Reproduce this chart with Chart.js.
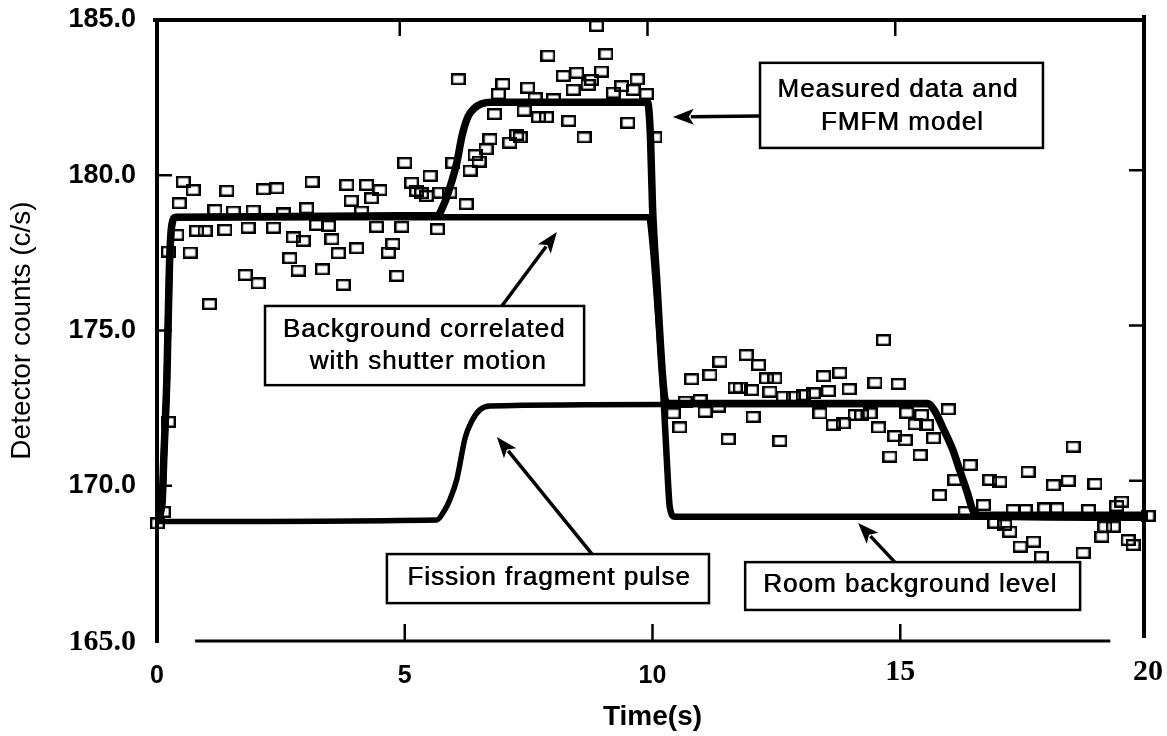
<!DOCTYPE html>
<html><head><meta charset="utf-8">
<script src="https://cdn.jsdelivr.net/npm/chart.js@4.4.1/dist/chart.umd.min.js"></script>
<style>html,body{margin:0;padding:0;background:#fff;}canvas{display:block;}</style>
</head><body>
<canvas id="c" width="1167" height="736"></canvas>
<script>
// ---- axis ticks ----
const xTicks = [0, 5, 10, 15, 20];
const yTicks = [165, 170, 175, 180, 185];
const xTickLabels = ['0', '5', '10', '15', '20'];
const yTickLabels = ['165.0', '170.0', '175.0', '180.0', '185.0'];
const xSerifTicks = [15, 20];   // labels printed in a serif face in the original
const ySerifTicks = [165];

// ---- measured data (time s, counts c/s) ----
const measT = [0.01,0.13,0.23,0.23,0.40,0.45,0.53,0.67,0.73,0.80,0.97,1.06,1.17,1.37,1.41,1.54,1.78,1.84,1.94,2.04,
  2.15,2.35,2.42,2.55,2.68,2.75,2.85,2.95,3.02,3.13,3.22,3.34,3.46,3.53,3.66,3.76,3.83,3.92,4.03,4.13,
  4.23,4.33,4.43,4.50,4.67,4.76,4.84,4.94,5.00,5.14,5.24,5.34,5.44,5.51,5.66,5.71,5.91,5.97,6.08,6.24,
  6.32,6.42,6.50,6.64,6.72,6.81,6.89,6.98,7.12,7.26,7.33,7.41,7.48,7.63,7.70,7.86,7.89,8.00,8.20,8.31,
  8.40,8.47,8.62,8.70,8.77,8.87,8.97,9.06,9.21,9.38,9.50,9.61,9.69,9.88,10.05,
  10.42,10.55,10.66,10.79,10.96,11.06,11.16,11.33,11.36,11.53,11.67,11.77,11.89,12.00,12.03,12.14,12.30,12.37,12.47,12.57,
  12.64,12.84,13.04,13.25,13.38,13.45,13.55,13.65,13.78,13.85,13.97,14.09,14.22,14.39,14.49,14.56,14.66,14.79,14.89,14.96,
  15.10,15.13,15.30,15.40,15.43,15.53,15.67,15.79,15.97,16.10,16.31,16.41,16.68,16.81,16.91,17.01,17.11,17.21,17.28,17.42,
  17.52,17.58,17.69,17.85,17.92,18.09,18.16,18.39,18.49,18.69,18.80,18.93,19.07,19.13,19.30,19.37,19.47,19.60,19.70,20.00];
const measV = [168.79,169.16,172.06,177.54,178.08,179.10,179.79,177.51,179.52,178.21,178.21,175.85,178.88,178.24,179.50,178.83,176.79,178.31,178.86,176.52,
  179.55,178.31,179.58,178.77,177.33,178.00,176.93,177.89,178.94,179.79,178.40,176.97,178.37,177.94,177.49,176.47,179.69,179.18,177.65,178.83,
  179.69,179.26,178.34,179.52,177.51,177.79,176.76,178.34,180.40,179.76,179.50,179.42,179.33,179.98,178.26,179.44,179.44,180.40,183.09,179.07,
  180.15,180.65,180.44,180.84,181.16,181.97,182.62,182.94,181.05,181.30,181.22,182.08,182.82,182.48,181.87,181.87,183.85,182.45,183.20,181.75,
  182.75,183.30,181.22,182.91,183.07,184.81,183.34,183.90,182.66,182.87,181.69,182.75,183.09,182.62,181.22,
  172.33,171.88,172.71,173.43,172.76,172.38,173.57,172.55,174.00,171.50,173.16,173.16,174.21,173.08,172.22,173.89,173.46,173.03,173.46,171.44,
  172.87,172.87,172.92,172.98,172.33,173.53,173.05,171.96,173.64,172.01,173.11,172.28,172.28,172.33,173.32,171.88,174.69,170.94,171.60,173.28,
  171.47,172.35,171.98,170.99,172.28,171.96,171.53,169.70,172.46,170.19,169.16,170.67,169.38,170.19,168.81,170.13,168.74,168.52,169.22,168.04,
  169.22,170.45,168.20,167.71,169.27,170.02,169.27,170.16,171.26,167.84,169.22,170.06,168.36,168.68,168.68,169.35,169.49,168.25,168.09,169.03];

// ---- FMFM model ----
const modelT = [0,0.10,0.14,0.20,0.25,0.30,0.38,5.65,5.80,5.91,6.05,6.16,6.28,6.40,6.55,6.75,9.90,9.96,10.00,10.09,10.20,10.26,10.35,
  15.55,15.70,15.85,16.05,16.20,16.35,16.47,16.60,20];
const modelV = [168.9,169.4,171.0,173.5,177.0,178.4,178.65,178.7,179.1,179.6,180.4,181.3,181.9,182.15,182.3,182.35,182.35,181.2,179.0,176.5,173.6,172.75,172.65,
  172.65,172.4,171.9,171.2,170.5,169.8,169.2,169.05,169.05];

// ---- background correlated with shutter motion / room background ----
const bgT = [0,0.10,0.14,0.20,0.25,0.30,0.38,9.93,10.00,10.09,10.20,10.29,10.35,10.45,20];
const bgV = [168.9,169.4,171.0,173.5,177.0,178.4,178.65,178.65,177.8,176.0,173.5,170.8,169.3,169.0,169.0];

// ---- fission fragment pulse ----
const pulseT = [0,5.65,5.80,5.91,6.05,6.22,6.36,6.52,6.72,10.26,15.55,15.70,15.85,16.05,16.20,16.35,16.47,16.60,20];
const pulseV = [168.85,168.9,169.2,169.55,170.2,171.55,172.1,172.45,172.57,172.62,172.62,172.4,171.9,171.2,170.5,169.8,169.2,169.0,168.95];

// ---- annotations (data units) ----
const notes = [
  {box:[12.17,183.62,17.88,180.88], lines:[['Measured data and',14.95,182.75],['FMFM model',15.04,181.68]], arrow:[12.17,181.91,10.41,181.88]},
  {box:[2.18,175.79,8.62,173.24], lines:[['Background correlated',5.39,175.02],['with shutter motion',5.47,173.99]], arrow:[6.96,175.79,8.07,178.17]},
  {box:[4.64,167.80,11.14,166.22], lines:[['Fission fragment pulse',7.91,167.03]], arrow:[8.78,167.80,6.86,171.57]},
  {box:[11.87,167.54,18.63,166.00], lines:[['Room background level',15.20,166.80]], arrow:[14.89,167.54,14.15,168.80]}
];
const bottomAxisSpan = [0.77, 19.24];

const pts = (ts, vs) => ts.map((t, i) => ({x: t, y: vs[i]}));

const SANS = '"Liberation Sans", Arial, Helvetica, sans-serif';
const SERIF = '"Liberation Serif", "Times New Roman", Times, serif';

// open square marker
const marker = document.createElement('canvas');
marker.width = 15; marker.height = 12;
(function(){ const c = marker.getContext('2d'); c.strokeStyle = '#000'; c.lineWidth = 2.4; c.strokeRect(1.2, 1.2, 12.6, 9.6); })();

const framePlugin = {
  id: 'frame',
  beforeDatasetsDraw(chart) {
    const {ctx, scales: {x, y}} = chart;
    const L = x.getPixelForValue(xTicks[0]), R = x.getPixelForValue(xTicks[xTicks.length-1]);
    const T = y.getPixelForValue(yTicks[yTicks.length-1]), B = y.getPixelForValue(yTicks[0]);
    const seg = (x1,y1,x2,y2,w) => { ctx.lineWidth = w; ctx.beginPath(); ctx.moveTo(x1,y1); ctx.lineTo(x2,y2); ctx.stroke(); };
    ctx.save();
    ctx.strokeStyle = '#000'; ctx.lineCap = 'butt';
    seg(L, T-2, L, B+2, 4);
    seg(L-4, T, R-2, T, 4);
    seg(R-4, T-5, R-4, B-3, 4);
    seg(x.getPixelForValue(bottomAxisSpan[0]), B, x.getPixelForValue(bottomAxisSpan[1]), B, 3);
    yTicks.slice(1, -1).forEach(v => {
      const py = y.getPixelForValue(v);
      seg(L, py, L+15, py, 2.5);
      seg(R-4, py-5, R-19, py-5, 2.5);
    });
    xTicks.slice(1, -1).forEach(v => {
      const px = x.getPixelForValue(v);
      seg(px-5, T, px-5, T+16, 2.5);
      seg(px, B, px, B-17, 2.5);
    });
    // tick labels
    ctx.fillStyle = '#000';
    ctx.textAlign = 'right'; ctx.textBaseline = 'middle';
    yTicks.forEach((v, i) => {
      ctx.font = ySerifTicks.includes(v) ? 'bold 30px ' + SERIF : 'bold 27px ' + SANS;
      ctx.fillText(yTickLabels[i], L - 21, y.getPixelForValue(v) + (ySerifTicks.includes(v) ? 1 : 0));
    });
    ctx.textAlign = 'center';
    xTicks.forEach((v, i) => {
      const serif = xSerifTicks.includes(v);
      ctx.font = serif ? 'bold 30px ' + SERIF : 'bold 25px ' + SANS;
      ctx.fillText(xTickLabels[i], x.getPixelForValue(v), B + (serif ? 31 : 35));
    });
    ctx.restore();
  }
};

const notesPlugin = {
  id: 'notes',
  afterDraw(chart) {
    const {ctx, scales: {x, y}} = chart;
    ctx.save();
    ctx.strokeStyle = '#000'; ctx.fillStyle = '#000';
    notes.forEach(n => {
      const [a0,b0,a1,b1] = n.box;
      const x0 = x.getPixelForValue(a0), y0 = y.getPixelForValue(b0);
      const x1 = x.getPixelForValue(a1), y1 = y.getPixelForValue(b1);
      ctx.fillStyle = '#fff'; ctx.fillRect(x0, y0, x1-x0, y1-y0);
      ctx.lineWidth = 2.5; ctx.strokeRect(x0, y0, x1-x0, y1-y0);
      ctx.fillStyle = '#000';
      ctx.font = '26px ' + SANS;
      try { ctx.letterSpacing = '1px'; } catch(e) {}
      ctx.textAlign = 'center'; ctx.textBaseline = 'middle';
      n.lines.forEach(([txt, tx, ty]) => {
        const px = x.getPixelForValue(tx), py = y.getPixelForValue(ty);
        ctx.fillText(txt, px, py);
        ctx.fillText(txt, px + 0.6, py);
      });
      try { ctx.letterSpacing = '0px'; } catch(e) {}
      const [p0,q0,p1,q1] = n.arrow;
      const ax = x.getPixelForValue(p0), ay = y.getPixelForValue(q0);
      const bx = x.getPixelForValue(p1), by = y.getPixelForValue(q1);
      const ang = Math.atan2(by-ay, bx-ax), hl = 21, hw = 8;
      const cx = bx - hl*Math.cos(ang), cy = by - hl*Math.sin(ang);
      ctx.lineWidth = 3.5; ctx.beginPath(); ctx.moveTo(ax, ay); ctx.lineTo(cx + 3*Math.cos(ang), cy + 3*Math.sin(ang)); ctx.stroke();
      ctx.beginPath(); ctx.moveTo(bx, by);
      ctx.lineTo(cx - hw*Math.sin(ang), cy + hw*Math.cos(ang));
      ctx.lineTo(cx + 5*Math.cos(ang), cy + 5*Math.sin(ang));
      ctx.lineTo(cx + hw*Math.sin(ang), cy - hw*Math.cos(ang));
      ctx.closePath(); ctx.fill();
    });
    ctx.restore();
  }
};

new Chart(document.getElementById('c'), {
  type: 'scatter',
  data: {
    datasets: [
      {label: 'Measured data', data: pts(measT, measV), showLine: false, pointStyle: marker, pointRadius: 6, borderColor: '#000', backgroundColor: 'rgba(0,0,0,0)', clip: false},
      {label: 'FMFM model', data: pts(modelT, modelV), showLine: true, borderColor: '#000', borderWidth: 7.5, pointRadius: 0, cubicInterpolationMode: 'monotone', borderJoinStyle: 'round', fill: false},
      {label: 'Background', data: pts(bgT, bgV), showLine: true, borderColor: '#000', borderWidth: 6.5, pointRadius: 0, cubicInterpolationMode: 'monotone', borderJoinStyle: 'round', fill: false},
      {label: 'Fission fragment pulse', data: pts(pulseT, pulseV), showLine: true, borderColor: '#000', borderWidth: 5.5, pointRadius: 0, cubicInterpolationMode: 'monotone', borderJoinStyle: 'round', fill: false}
    ]
  },
  options: {
    responsive: false, animation: false, devicePixelRatio: 1,
    layout: {padding: {top: 20, right: 19, left: 0, bottom: 0}},
    plugins: {legend: {display: false}, tooltip: {enabled: false}},
    scales: {
      x: {
        type: 'linear', min: xTicks[0], max: xTicks[xTicks.length-1],
        afterBuildTicks: s => { s.ticks = xTicks.map(v => ({value: v})); },
        afterFit: s => { s.height = 95; s.paddingLeft = 0; s.paddingRight = 0; },
        grid: {display: false, drawTicks: false}, border: {display: false},
        ticks: {display: false},
        title: {display: true, text: 'Time(s)', color: '#000', font: {family: SANS, size: 28, weight: 'bold', lineHeight: 1.2}, padding: {top: 0, bottom: 2}}
      },
      y: {
        type: 'linear', min: yTicks[0], max: yTicks[yTicks.length-1],
        afterBuildTicks: s => { s.ticks = yTicks.map(v => ({value: v})); },
        afterFit: s => { s.width = 157; s.paddingTop = 0; s.paddingBottom = 0; },
        grid: {display: false, drawTicks: false}, border: {display: false},
        ticks: {display: false},
        title: {display: true, text: 'Detector counts (c/s)', color: '#000',
          font: {family: SANS, size: 28, weight: 'normal', lineHeight: 1.2}, padding: {top: 5, bottom: 0}}
      }
    }
  },
  plugins: [framePlugin, notesPlugin]
});
</script>
</body></html>
